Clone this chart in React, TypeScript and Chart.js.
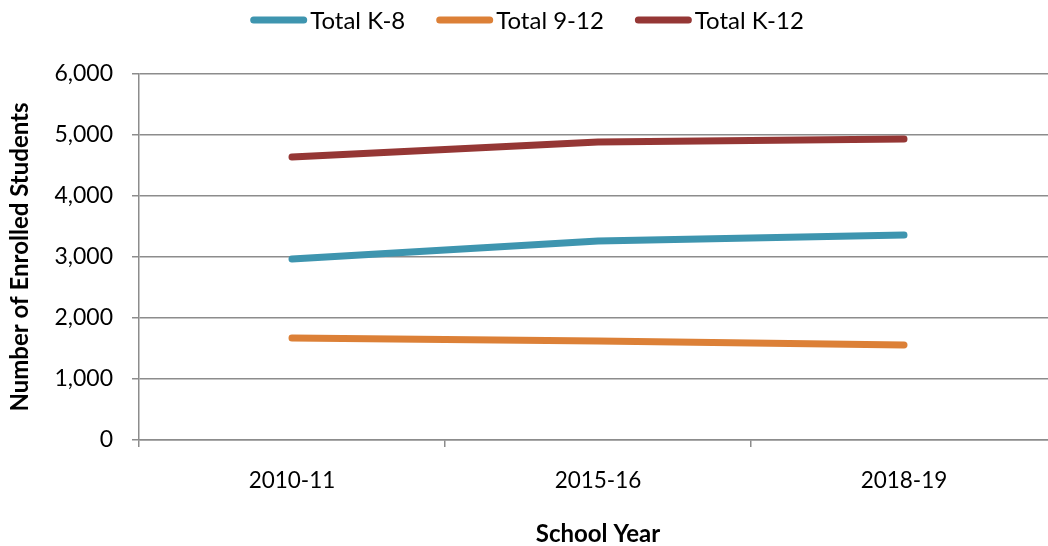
import React, { useEffect, useRef } from "react";
import { Chart, registerables } from "chart.js";

Chart.register(...registerables);

const categories = ["2010-11", "2015-16", "2018-19"];
const totalK8 = [2967, 3262, 3361];
const total912 = [1672, 1623, 1557];
const totalK12 = [4639, 4885, 4934];
const yTicks = [0, 1000, 2000, 3000, 4000, 5000, 6000];

const VIEW_W = 1048;
const VIEW_H = 546;
const FONT = "Lato, Carlito, 'Liberation Sans', sans-serif";

const legendPlugin = {
  id: "customLegend",
  afterDraw(chart: any) {
    const ctx = chart.ctx;
    ctx.save();
    ctx.font = `24px ${FONT}`;
    const lineLen = 57;
    const gap = 3;
    const itemGap = 31;
    const items = chart.data.datasets.map((ds: any) => ({
      label: ds.label,
      color: ds.borderColor,
      w: lineLen + gap + ctx.measureText(ds.label).width,
    }));
    const total =
      items.reduce((s: number, it: any) => s + it.w, 0) + itemGap * (items.length - 1);
    let x = (VIEW_W - total) / 2 + 3;
    const y = 20;
    for (const it of items) {
      ctx.strokeStyle = it.color;
      ctx.lineWidth = 7;
      ctx.lineCap = "round";
      ctx.beginPath();
      ctx.moveTo(x + 3.5, y);
      ctx.lineTo(x + lineLen - 3.5, y);
      ctx.stroke();
      ctx.fillStyle = "#000";
      ctx.textBaseline = "middle";
      ctx.textAlign = "left";
      ctx.fillText(it.label, x + lineLen + gap, y + 1);
      x += it.w + itemGap;
    }
    ctx.restore();
  },
};

export default function App() {
  const ref = useRef<HTMLCanvasElement | null>(null);
  useEffect(() => {
    document.body.style.margin = "0";
    const canvas = ref.current!;
    const mk = (label: string, data: number[], color: string) => ({
      label,
      data,
      borderColor: color,
      backgroundColor: color,
      borderWidth: 7,
      borderCapStyle: "round" as const,
      borderJoinStyle: "round" as const,
      pointRadius: 0,
      pointHoverRadius: 0,
      tension: 0,
      fill: false,
    });
    const chart = new Chart(canvas, {
      type: "line",
      data: {
        labels: categories,
        datasets: [
          mk("Total K-8", totalK8, "#3E95AF"),
          mk("Total 9-12", total912, "#DC8037"),
          mk("Total K-12", totalK12, "#953735"),
        ],
      },
      plugins: [legendPlugin],
      options: {
        animation: false,
        responsive: false,
        maintainAspectRatio: false,
        layout: { padding: { top: 74, left: 0, right: 1, bottom: 0 } },
        plugins: {
          legend: { display: false },
          tooltip: { enabled: false },
        },
        scales: {
          x: {
            type: "category",
            offset: true,
            grid: {
              offset: true,
              drawOnChartArea: false,
              drawTicks: true,
              tickLength: 7,
              color: "#8c8c8c",
              lineWidth: 1.5,
            },
            border: { display: true, color: "#8c8c8c", width: 1.5 },
            ticks: {
              color: "#000",
              font: { family: FONT, size: 22.5 },
              padding: 20,
              maxRotation: 0,
            },
            title: {
              display: true,
              text: "School Year",
              color: "#000",
              font: { family: FONT, size: 24, weight: "bold" },
              padding: { top: 10, bottom: -3 },
            },
            afterFit(scale: any) {
              scale.height = 106;
            },
          },
          y: {
            min: 0,
            max: 6000,
            afterBuildTicks(scale: any) {
              scale.ticks = yTicks.map((v) => ({ value: v }));
            },
            grid: {
              color: "#8c8c8c",
              lineWidth: 1.5,
              drawTicks: true,
              tickLength: 7,
            },
            border: { display: true, color: "#8c8c8c", width: 1.5 },
            ticks: {
              color: "#000",
              font: { family: FONT, size: 23 },
              padding: 19,
              callback: (v: any) => Number(v).toLocaleString("en-US"),
            },
            title: {
              display: true,
              text: "Number of Enrolled Students",
              color: "#000",
              font: { family: FONT, size: 24, weight: "bold" },
              padding: { top: 6, bottom: 0 },
            },
            afterFit(scale: any) {
              scale.width = 139;
            },
          },
        },
      },
    });
    return () => chart.destroy();
  }, []);
  return (
    <div
      style={{
        position: "fixed",
        left: 0,
        top: 0,
        width: VIEW_W,
        height: VIEW_H,
        overflow: "hidden",
        background: "#fff",
      }}
    >
      <canvas ref={ref} width={1058} height={VIEW_H} style={{ display: "block" }} />
    </div>
  );
}
